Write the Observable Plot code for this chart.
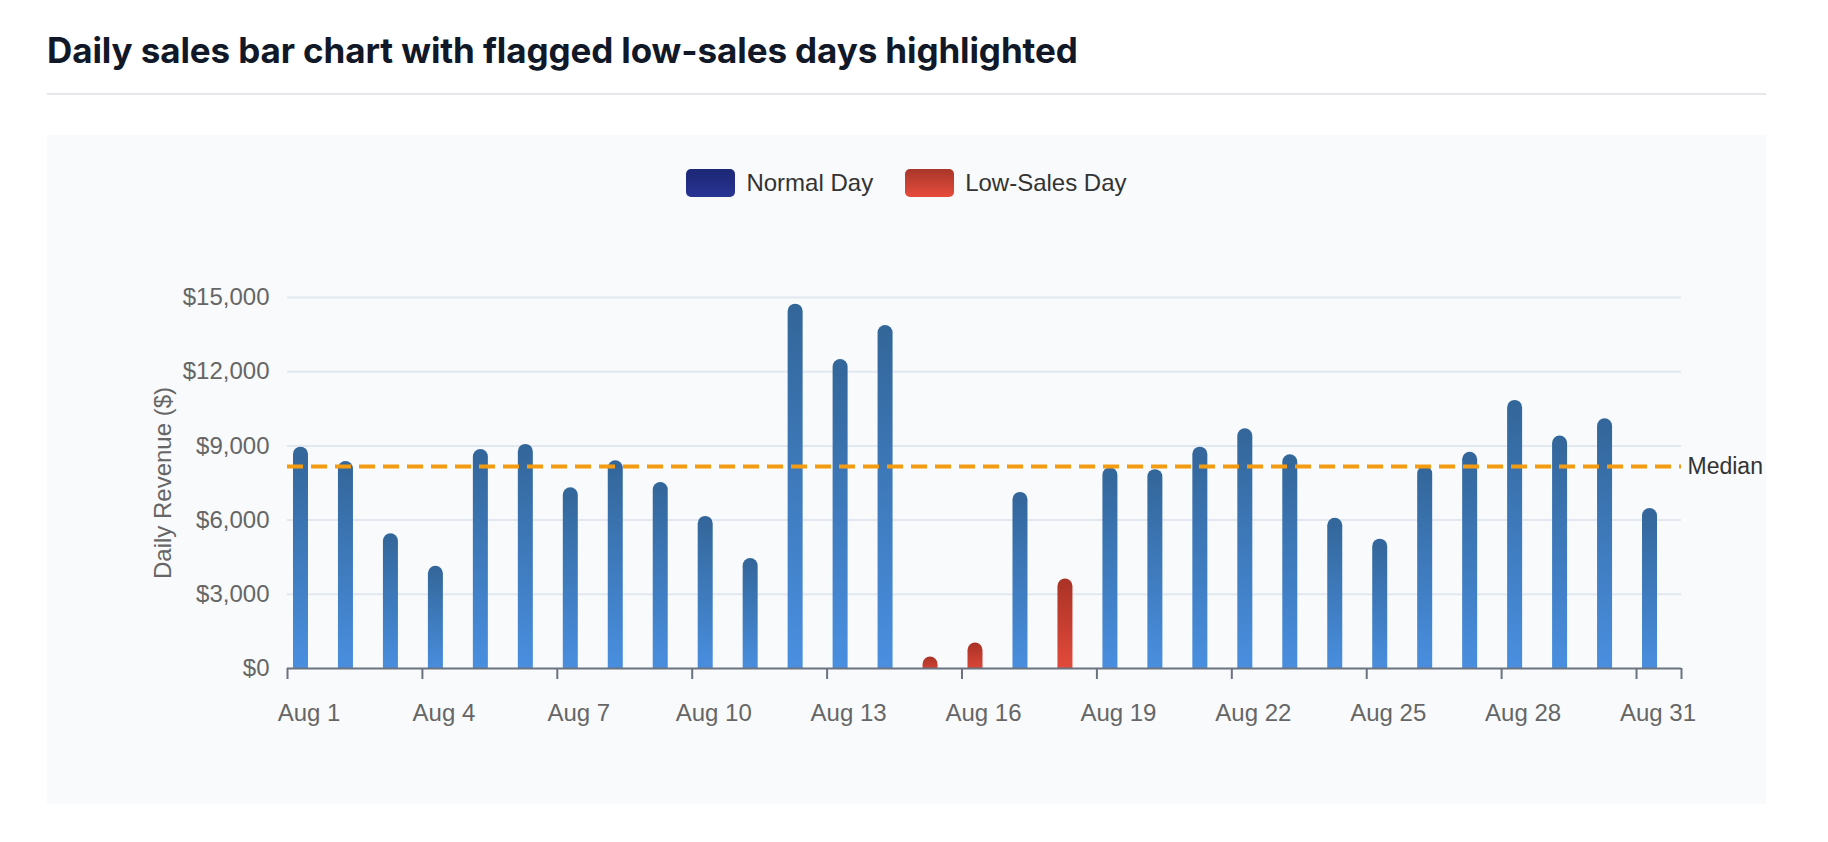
<!DOCTYPE html>
<html>
<head>
<meta charset="utf-8">
<script src="https://cdn.jsdelivr.net/npm/d3@7"></script>
<script src="https://cdn.jsdelivr.net/npm/@observablehq/plot@0.6"></script>
<style>
  html, body { margin: 0; padding: 0; background: #ffffff; }
  body { width: 1828px; height: 842px; position: relative; overflow: hidden; }
  #title {
    position: absolute; left: 47px; top: 32px;
    font-family: Inter, "Noto Sans", sans-serif; font-weight: 700;
    font-size: 35px; line-height: 36px; color: #111827; white-space: nowrap;
    letter-spacing: -0.1px;
  }
  #rule { position: absolute; left: 47px; top: 93px; width: 1719px; height: 2px; background: #e5e7eb; }
  #panel {
    position: absolute; left: 47px; top: 135px; width: 1719px; height: 669px;
    background: #f8fafc; overflow: hidden;
  }
  #legend {
    position: absolute; left: 0; top: 34px; width: 100%; height: 28px;
    display: flex; justify-content: center; align-items: center;
    font-family: "Liberation Sans", Arial, sans-serif; font-size: 24px; line-height: 28px; color: #333;
  }
  .item { display: flex; align-items: center; margin: 0 16px; }
  .swatch { width: 49px; height: 28px; border-radius: 5px; margin-right: 11px; }
  #chart { position: absolute; left: 0; top: 80px; }
</style>
</head>
<body>
<div id="title">Daily sales bar chart with flagged low-sales days highlighted</div>
<div id="rule"></div>
<div id="panel">
  <div id="legend"></div>
  <div id="chart"></div>
</div>
<script>
// Day of month for each bar (August)
const days = [1, 2, 3, 4, 5, 6, 7, 8, 9, 10, 11, 12, 13, 14, 15, 16, 17, 18, 19, 20, 21, 22, 23, 24, 25, 26, 27, 28, 29, 30, 31];
// Daily revenue in dollars
const revenue = [8950, 8370, 5450, 4130, 8850, 9060, 7310, 8400, 7520, 6150, 4450, 14730, 12490, 13870, 460, 1030, 7120, 3620, 8110, 8040, 8950, 9690, 8640, 6070, 5230, 8170, 8740, 10840, 9400, 10100, 6470];
// Days flagged as low-sales
const lowSalesDays = [15, 16, 18];
// Axis ticks
const xTickDays = [1, 4, 7, 10, 13, 16, 19, 22, 25, 28, 31];
const xTickLabels = ["Aug 1", "Aug 4", "Aug 7", "Aug 10", "Aug 13", "Aug 16", "Aug 19", "Aug 22", "Aug 25", "Aug 28", "Aug 31"];
const yTicks = [0, 3000, 6000, 9000, 12000, 15000];
const monthEnd = 32; // midnight after Aug 31
const barOffset = 0.3; // bars sit a little after each day's midnight tick

const legendItems = [
  {label: "Normal Day", gradient: "linear-gradient(#1c2775, #283593)"},
  {label: "Low-Sales Day", gradient: "linear-gradient(#a8362a, #e74c3c)"}
];

const rows = days.map((day, i) => ({day, revenue: revenue[i], low: lowSalesDays.includes(day)}));
const median = d3.median(revenue);

// Legend
const legend = document.getElementById("legend");
for (const it of legendItems) {
  const item = document.createElement("div");
  item.className = "item";
  const sw = document.createElement("div");
  sw.className = "swatch";
  sw.style.background = it.gradient;
  const tx = document.createElement("span");
  tx.textContent = it.label;
  item.append(sw, tx);
  legend.append(item);
}

const fmt = d3.format("$,");
const axisGray = "#6b7280";
const textGray = "#666666";

const chart = Plot.plot({
  width: 1719,
  height: 589,
  marginLeft: 240,
  marginRight: 85,
  marginTop: 82,
  marginBottom: 136,
  style: {background: "transparent", fontFamily: "'Liberation Sans', Arial, sans-serif", fontSize: "24px", overflow: "visible"},
  x: {type: "linear", domain: [1, monthEnd], axis: null},
  y: {domain: [0, 15000], axis: null},
  color: {type: "identity"},
  marks: [
    // horizontal grid
    Plot.ruleY(yTicks.filter(d => d > 0), {y: d => d, stroke: "#e2e8f0", strokeWidth: 2}),
    // bars with rounded tops (bottom corners pushed below the frame and clipped)
    Plot.rect(rows, {
      x1: d => d.day + barOffset,
      x2: d => d.day + barOffset,
      y1: 0,
      y2: d => d.revenue,
      insetLeft: -7.5,
      insetRight: -7.5,
      insetBottom: -8,
      rx: 7.5,
      fill: d => d.low ? "url(#lowGrad)" : "url(#normalGrad)",
      clip: true
    }),
    // x axis line and ticks
    Plot.ruleY([0], {stroke: axisGray, strokeWidth: 2}),
    Plot.ruleX([...xTickDays, monthEnd], {x: d => d, y1: 0, y2: 0, insetBottom: -11, stroke: axisGray, strokeWidth: 2}),
    // median reference
    Plot.ruleY([median], {y: d => d, stroke: "#f39c12", strokeWidth: 4, strokeDasharray: "16,8"}),
    Plot.text([median], {x: monthEnd, y: d => d, text: () => "Median", textAnchor: "start", dx: 6, fill: "#333333", fontSize: 23}),
    // tick labels
    Plot.text(xTickDays, {x: d => d, frameAnchor: "bottom", lineAnchor: "bottom", text: (d, i) => xTickLabels[i], dx: 21.5, dy: 52, fill: textGray, fontSize: 24}),
    Plot.text(yTicks, {y: d => d, frameAnchor: "left", textAnchor: "end", text: d => fmt(d), dx: -18, fill: textGray, fontSize: 24}),
    // y axis title
    Plot.text(["Daily Revenue ($)"], {frameAnchor: "left", textAnchor: "middle", text: d => d, rotate: -90, dx: -124, fill: textGray, fontSize: 24})
  ]
});

const ns = "http://www.w3.org/2000/svg";
const defs = document.createElementNS(ns, "defs");
defs.innerHTML =
  '<linearGradient id="normalGrad" x1="0" y1="0" x2="0" y2="1">' +
  '<stop offset="0" stop-color="#336699"/><stop offset="1" stop-color="#4a90e2"/></linearGradient>' +
  '<linearGradient id="lowGrad" x1="0" y1="0" x2="0" y2="1">' +
  '<stop offset="0" stop-color="#a93226"/><stop offset="1" stop-color="#e74c3c"/></linearGradient>';
chart.prepend(defs);
document.getElementById("chart").append(chart);
</script>
</body>
</html>
